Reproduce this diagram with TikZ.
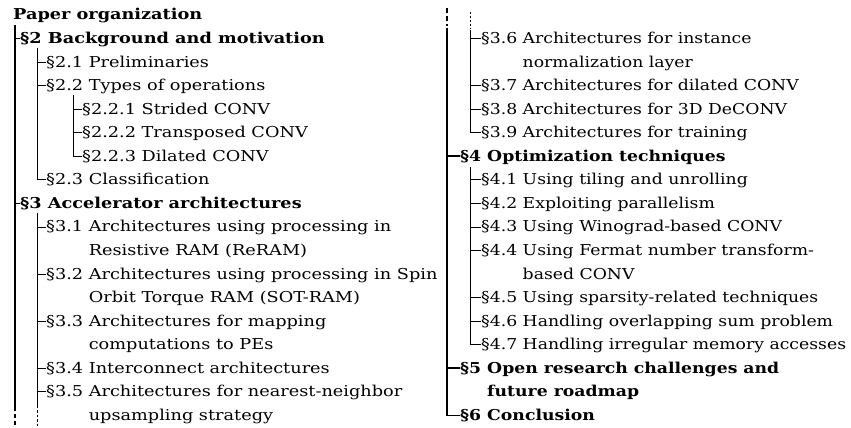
\documentclass[tikz,border=0pt]{standalone}
\usepackage{fontspec}
\setmainfont{DejaVu Serif}[FakeStretch=1.18]
\newfontfamily\rightfam{DejaVu Serif}[FakeStretch=1.15]
\begin{document}
\begin{tikzpicture}[x=1pt,y=-1pt,
  lbl/.style={anchor=west, inner sep=0pt, text height=10pt, text depth=0pt,
              font=\fontsize{15}{18}\selectfont},
  hd/.style={lbl, font=\fontsize{15}{18}\selectfont\bfseries},
  lblR/.style={lbl, font=\fontsize{15}{18}\rightfam},
  hdR/.style={lbl, font=\fontsize{15}{18}\rightfam\bfseries},
  trunkA/.style={line width=1.6pt},
  trunkB/.style={line width=0.8pt}]
\useasboundingbox (0,0) rectangle (851,428);

% ---- left column ----
\node[hd]  (root) at (13,14.95)   {Paper organization};
\node[hd]  (s2)   at (20,38.5)    {§2 Background and motivation};
\node[lbl] (s21)  at (46,62.05)   {§2.1 Preliminaries};
\node[lbl] (s22)  at (46,85.6)    {§2.2 Types of operations};
\node[lbl] (s221) at (82,109.15)  {§2.2.1 Strided CONV};
\node[lbl] (s222) at (82,132.7)   {§2.2.2 Transposed CONV};
\node[lbl] (s223) at (82,156.25)  {§2.2.3 Dilated CONV};
\node[lbl] (s23)  at (46,179.8)   {§2.3 Classification};
\node[hd]  (s3)   at (20,203.35)  {§3 Accelerator architectures};
\node[lbl] (s31)  at (46,226.9)   {§3.1 Architectures using processing in};
\node[lbl] (s31b) at (46,250.45)  {\hphantom{§3.1 }Resistive RAM (ReRAM)};
\node[lbl] (s32)  at (46,274.0)   {§3.2 Architectures using processing in Spin};
\node[lbl] (s32b) at (46,297.55)  {\hphantom{§3.2 }Orbit Torque RAM (SOT-RAM)};
\node[lbl] (s33)  at (46,321.1)   {§3.3 Architectures for mapping};
\node[lbl] (s33b) at (46,344.65)  {\hphantom{§3.3 }computations to PEs};
\node[lbl] (s34)  at (46,368.2)   {§3.4 Interconnect architectures};
\node[lbl] (s35)  at (46,391.75)  {§3.5 Architectures for nearest-neighbor};
\node[lbl] (s35b) at (46,415.3)   {\hphantom{§3.5 }upsampling strategy};

% ---- right column ----
\node[lblR] (s36)  at (481,38.5)   {§3.6 Architectures for instance};
\node[lblR] (s36b) at (481,62.05)  {\hphantom{§3.6 }normalization layer};
\node[lblR] (s37)  at (481,85.6)   {§3.7 Architectures for dilated CONV};
\node[lblR] (s38)  at (481,109.15) {§3.8 Architectures for 3D DeCONV};
\node[lblR] (s39)  at (481,132.7)  {§3.9 Architectures for training};
\node[hdR]  (s4)   at (460,156.25) {§4 Optimization techniques};
\node[lblR] (s41)  at (481,179.8)  {§4.1 Using tiling and unrolling};
\node[lblR] (s42)  at (481,203.35) {§4.2 Exploiting parallelism};
\node[lblR] (s43)  at (481,226.9)  {§4.3 Using Winograd-based CONV};
\node[lblR] (s44)  at (481,250.45) {§4.4 Using Fermat number transform-};
\node[lblR] (s44b) at (481,274.0)  {\hphantom{§4.4 }based CONV};
\node[lblR] (s45)  at (481,297.55) {§4.5 Using sparsity-related techniques};
\node[lblR] (s46)  at (481,321.1)  {§4.6 Handling overlapping sum problem};
\node[lblR] (s47)  at (481,344.65) {§4.7 Handling irregular memory accesses};
\node[hdR]  (s5)   at (460,368.2)  {§5 Open research challenges and};
\node[hdR]  (s5b)  at (460,391.75) {\hphantom{§5 }future roadmap};
\node[hdR]  (s6)   at (460,415.3)  {§6 Conclusion};

% ---- tree lines, left column ----
\coordinate (tL)  at (15,25);
\coordinate (t2)  at (37,48);
\coordinate (t22) at (73,95);
\coordinate (t3)  at (37,213);
\draw[trunkA] (tL) -- (15,411);
\draw[trunkA, dash pattern=on 4pt off 3pt] (15,414) -- (15,428);
\foreach \n in {s2,s3} \draw[trunkA] (tL |- \n.west) -- (\n.west);

\draw[trunkB] (t2) |- (s23.west);
\foreach \n in {s21,s22} \draw[trunkB] (t2 |- \n.west) -- (\n.west);
\draw[trunkB] (t22) |- (s223.west);
\foreach \n in {s221,s222} \draw[trunkB] (t22 |- \n.west) -- (\n.west);

\draw[trunkB] (t3) -- (37,408);
\draw[trunkB, dash pattern=on 2.5pt off 2pt] (37,410) -- (37,428);
\foreach \n in {s31,s32,s33,s34,s35} \draw[trunkB] (t3 |- \n.west) -- (\n.west);

% ---- tree lines, right column ----
\coordinate (tR)  at (447,28);
\coordinate (tR3) at (470,30);
\coordinate (t4)  at (470,167);
\draw[trunkA, dash pattern=on 5pt off 3pt] (447,8) -- (447,26);
\draw[trunkA] (tR) |- (s6.west);
\foreach \n in {s4,s5} \draw[trunkA] (tR |- \n.west) -- (\n.west);

\draw[trunkB, dash pattern=on 2pt off 2pt] (470,12) -- (470,29);
\draw[trunkB] (tR3) |- (s39.west);
\foreach \n in {s36,s37,s38} \draw[trunkB] (tR3 |- \n.west) -- (\n.west);

\draw[trunkB] (t4) |- (s47.west);
\foreach \n in {s41,s42,s43,s44,s45,s46} \draw[trunkB] (t4 |- \n.west) -- (\n.west);
\end{tikzpicture}
\end{document}
